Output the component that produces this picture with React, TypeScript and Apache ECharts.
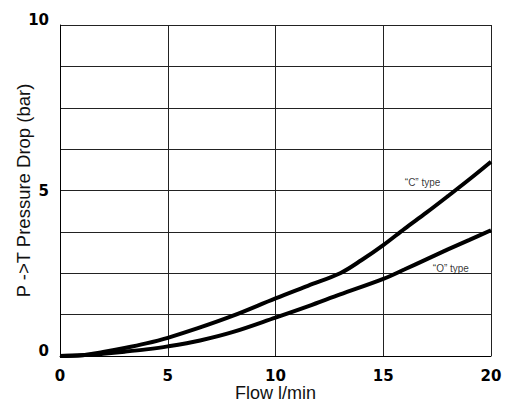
import React, { useEffect, useRef } from "react";
import * as echarts from "echarts";

const flowC = [0, 1, 2, 3, 4, 5, 6.4, 8, 10, 11.5, 13, 14, 15, 16, 17, 18, 19, 20];
const dropC = [0, 0.02, 0.12, 0.24, 0.38, 0.55, 0.84, 1.21, 1.74, 2.12, 2.5, 2.9, 3.35, 3.85, 4.33, 4.83, 5.34, 5.87];
const flowO = [0, 1, 2, 3, 4, 5, 6.5, 8, 10, 11.5, 13, 15, 16, 17, 18, 19, 20];
const dropO = [0, 0.02, 0.07, 0.13, 0.2, 0.29, 0.47, 0.72, 1.16, 1.5, 1.86, 2.33, 2.62, 2.92, 3.22, 3.51, 3.8];
const labelC = { text: "\u201CC\u201D type", x: 16.0, y: 5.25 };
const labelO = { text: "\u201CO\u201D type", x: 17.3, y: 2.65 };
const xTicks = [0, 5, 10, 15, 20];
const yLabelTicks = [0, 5, 10];

export default function App() {
  const ref = useRef<HTMLDivElement>(null);
  useEffect(() => {
    if (!ref.current) return;
    const chart = echarts.init(ref.current, null, { renderer: "svg" });
    const lineStyle = { color: "#000", width: 4 };
    chart.setOption({
      animation: false,
      backgroundColor: "#fff",
      grid: {
        left: 60,
        right: 14,
        top: 25,
        bottom: 47,
        containLabel: false,
        outerBoundsMode: "none",
      },
      xAxis: {
        type: "value",
        min: 0,
        max: 20,
        interval: 5,
        name: "Flow l/min",
        nameLocation: "middle",
        nameGap: 28,
        nameMoveOverlap: false,
        nameTextStyle: { fontFamily: "Liberation Sans", fontSize: 18, color: "#111" },
        axisLine: { show: true, lineStyle: { color: "#000", width: 1 } },
        axisTick: { show: false },
        axisLabel: {
          margin: 12,
          fontFamily: "DejaVu Sans",
          fontWeight: "bold",
          fontSize: 15,
          color: "#000",
          formatter: (v: number) => (xTicks.includes(v) ? String(v) : ""),
        },
        splitLine: { show: true, lineStyle: { color: "#222", width: 1 } },
      },
      yAxis: {
        type: "value",
        min: 0,
        max: 10,
        interval: 1.25,
        name: "P ->T Pressure Drop (bar)",
        nameLocation: "middle",
        nameGap: 27,
        nameMoveOverlap: false,
        nameTextStyle: { fontFamily: "Liberation Sans", fontSize: 18.5, color: "#111" },
        axisLine: { show: true, lineStyle: { color: "#000", width: 1 } },
        axisTick: { show: false },
        axisLabel: {
          margin: 11,
          fontFamily: "DejaVu Sans",
          fontWeight: "bold",
          fontSize: 15,
          color: "#000",
          formatter: (v: number) => {
            if (!yLabelTicks.includes(v)) return "";
            if (v === 10) return "{t|10}";
            if (v === 0) return "{t|0}";
            return String(v);
          },
          rich: {
            t: {
              fontFamily: "DejaVu Sans",
              fontWeight: "bold",
              fontSize: 15,
              color: "#000",
              padding: [0, 0, 11, 0],
            },
          },
        },
        splitLine: { show: true, lineStyle: { color: "#222", width: 1 } },
      },
      series: [
        {
          type: "line",
          name: "C type",
          data: flowC.map((x, i) => [x, dropC[i]]),
          smooth: 0.35,
          symbol: "none",
          lineStyle,
        },
        {
          type: "line",
          name: "O type",
          data: flowO.map((x, i) => [x, dropO[i]]),
          smooth: 0.35,
          symbol: "none",
          lineStyle,
        },
        {
          type: "scatter",
          symbolSize: 0,
          data: [
            { value: [labelC.x, labelC.y], name: labelC.text },
            { value: [labelO.x, labelO.y], name: labelO.text },
          ],
          label: {
            show: true,
            position: "right",
            distance: 0,
            formatter: (p: any) => p.name,
            fontFamily: "Liberation Sans",
            fontSize: 10,
            color: "#000",
          },
        },
      ],
    });
    return () => chart.dispose();
  }, []);
  return (
    <div
      ref={ref}
      style={{ position: "absolute", left: 0, top: 0, width: 505, height: 403 }}
    />
  );
}
